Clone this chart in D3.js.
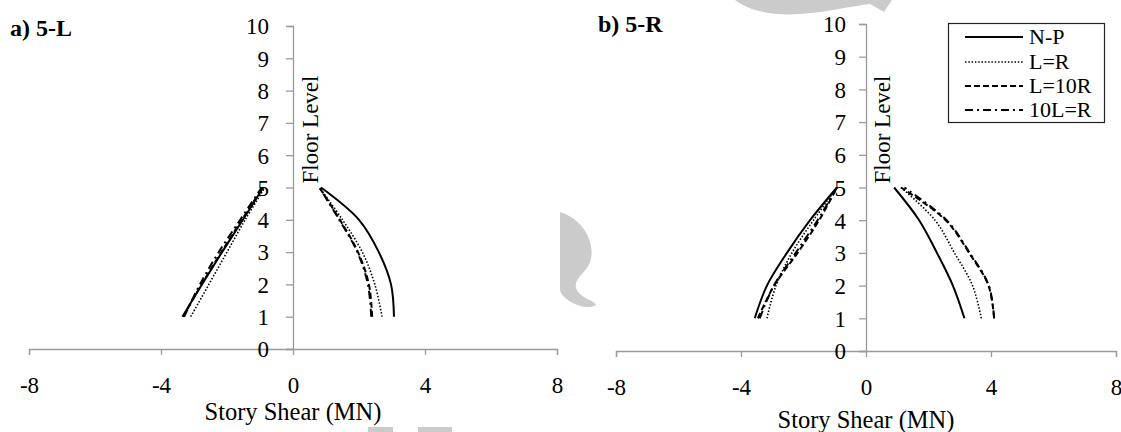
<!DOCTYPE html>
<html>
<head>
<meta charset="utf-8">
<script src="https://cdn.jsdelivr.net/npm/d3@7"></script>
<style>
  html, body { margin: 0; padding: 0; background: #fff; }
  svg { display: block; }
</style>
</head>
<body>
<svg id="chart" width="1121" height="432"></svg>
<script>
// ---- data ----
const floors = [1, 2, 3, 4, 5];
const seriesNames = ["N-P", "L=R", "L=10R", "10L=R"];
const xTicks = [-8, -4, 0, 4, 8];
const yTicks = [0, 1, 2, 3, 4, 5, 6, 7, 8, 9, 10];
const panelTitles = ["a) 5-L", "b) 5-R"];
const xAxisTitle = "Story Shear (MN)";
const yAxisTitle = "Floor Level";

// Panel a) 5-L : negative and positive story shear at floors 1..5
const L_NP_neg    = [-3.35, -2.76, -2.15, -1.52, -0.90];
const L_LR_neg    = [-3.10, -2.55, -2.00, -1.45, -0.85];
const L_L10R_neg  = [-3.33, -2.77, -2.17, -1.55, -0.92];
const L_10LR_neg  = [-3.30, -2.82, -2.25, -1.60, -0.95];
const L_NP_pos    = [3.06, 2.97, 2.60, 2.00, 0.85];
const L_LR_pos    = [2.70, 2.48, 2.10, 1.50, 0.80];
const L_L10R_pos  = [2.40, 2.30, 1.97, 1.42, 0.80];
const L_10LR_pos  = [2.37, 2.27, 1.95, 1.40, 0.80];

// Panel b) 5-R
const R_NP_neg    = [-3.56, -3.17, -2.53, -1.79, -0.93];
const R_LR_neg    = [-3.17, -2.88, -2.37, -1.68, -0.93];
const R_L10R_neg  = [-3.46, -2.94, -2.19, -1.50, -0.93];
const R_10LR_neg  = [-3.40, -2.95, -2.25, -1.55, -0.93];
const R_NP_pos    = [3.15, 2.78, 2.27, 1.70, 0.90];
const R_LR_pos    = [3.69, 3.41, 2.83, 2.21, 1.12];
const R_L10R_pos  = [4.10, 3.92, 3.30, 2.55, 1.12];
const R_10LR_pos  = [4.10, 3.93, 3.32, 2.58, 1.23];

const panelData = [
  [[L_NP_neg, L_NP_pos], [L_LR_neg, L_LR_pos], [L_L10R_neg, L_L10R_pos], [L_10LR_neg, L_10LR_pos]],
  [[R_NP_neg, R_NP_pos], [R_LR_neg, R_LR_pos], [R_L10R_neg, R_L10R_pos], [R_10LR_neg, R_10LR_pos]]
];

// ---- styles ----
const lineStyles = [
  { width: 2.0, dash: null },
  { width: 1.6, dash: "1.5,1.8" },
  { width: 2.0, dash: "6,3" },
  { width: 2.0, dash: "8,4,2,4" }
];
const axisColor = "#9a9a9a";
const FONT = "Liberation Serif";

const svg = d3.select("#chart").attr("font-family", FONT);

// watermark-like grey shapes present in the picture
const wm = svg.append("g").attr("fill", "#cbcbcb");
wm.append("path").attr("d", "M735,0 C748,10 770,16 800,14 C830,12 850,6 870,4 L884,12 L892,0 Z");
wm.append("path").attr("d", "M560,212 C585,220 596,245 590,262 C585,275 570,280 578,292 C585,300 594,300 596,305 C585,312 562,300 560,290 Z");
wm.append("rect").attr("x", 368).attr("y", 427).attr("width", 25).attr("height", 5);
wm.append("rect").attr("x", 418).attr("y", 427).attr("width", 34).attr("height", 5);

const panels = [
  { xr: [29, 557], yr: [349, 26], title: [10, 36], xtitleY: 420, ylabOff: 24, floorX: 318 },
  { xr: [616, 1116], yr: [351, 24], title: [598, 32], xtitleY: 428, ylabOff: 20, floorX: 890 }
];

panels.forEach((p, i) => {
  const x = d3.scaleLinear().domain([-8, 8]).range(p.xr);
  const y = d3.scaleLinear().domain([0, 10]).range(p.yr);
  const g = svg.append("g").attr("font-family", FONT);

  // x axis
  const xa = g.append("g").attr("transform", `translate(0,${y(0)})`)
    .call(d3.axisBottom(x).tickValues(xTicks).tickSize(6).tickFormat(d3.format("d")));
  xa.attr("font-family", FONT).attr("font-size", 23);
  xa.select(".domain").attr("stroke", axisColor).attr("stroke-width", 1.3);
  xa.selectAll(".tick line").attr("stroke", axisColor).attr("stroke-width", 1.3);
  xa.selectAll(".tick text").attr("font-family", FONT).attr("font-size", 23)
    .attr("dy", 0).attr("y", 44).attr("fill", "#000")
    .text(d => d < 0 ? "-" + Math.abs(d) : d);

  // y axis
  const ya = g.append("g").attr("transform", `translate(${x(0)},0)`)
    .call(d3.axisLeft(y).tickValues(yTicks).tickSize(7).tickSizeOuter(7));
  ya.attr("font-family", FONT).attr("font-size", 23);
  ya.select(".domain").attr("stroke", axisColor).attr("stroke-width", 1.3);
  ya.selectAll(".tick line").attr("stroke", axisColor).attr("stroke-width", 1.3);
  ya.selectAll(".tick text").attr("font-family", FONT).attr("font-size", 23)
    .attr("x", -p.ylabOff).attr("dy", "0.34em").attr("fill", "#000");

  // axis titles
  g.append("text").attr("transform", `translate(${p.floorX},${y(5) - 4}) rotate(-90)`)
    .attr("font-family", FONT).attr("font-size", 23).attr("text-anchor", "start").text(yAxisTitle);
  g.append("text").attr("x", x(0)).attr("y", p.xtitleY).attr("text-anchor", "middle")
    .attr("font-family", FONT).attr("font-size", 24.5).text(xAxisTitle);

  // panel title
  g.append("text").attr("x", p.title[0]).attr("y", p.title[1])
    .attr("font-family", FONT).attr("font-size", 24)
    .attr("font-weight", "bold").text(panelTitles[i]);

  // series lines
  const line = d3.line().x(d => x(d[0])).y(d => y(d[1])).curve(d3.curveCatmullRom.alpha(0.5));
  panelData[i].forEach((pair, s) => {
    pair.forEach(vals => {
      const pts = vals.map((v, k) => [v, floors[k]]);
      g.append("path").datum(pts).attr("d", line)
        .attr("fill", "none").attr("stroke", "#000")
        .attr("stroke-width", lineStyles[s].width)
        .attr("stroke-dasharray", lineStyles[s].dash);
    });
  });
});

// legend (panel b)
const lg = svg.append("g").attr("font-family", FONT);
lg.append("rect").attr("x", 948.5).attr("y", 23.5).attr("width", 156).attr("height", 99)
  .attr("fill", "#fff").attr("stroke", "#222").attr("stroke-width", 1.2);
const legY = [37, 62, 86, 110];
seriesNames.forEach((name, s) => {
  lg.append("line").attr("x1", 965).attr("x2", 1023).attr("y1", legY[s]).attr("y2", legY[s])
    .attr("stroke", "#000").attr("stroke-width", lineStyles[s].width)
    .attr("stroke-dasharray", lineStyles[s].dash);
  lg.append("text").attr("x", 1029).attr("y", legY[s]).attr("dy", "0.34em")
    .attr("font-family", FONT).attr("font-size", 22).text(name);
});
</script>
</body>
</html>
